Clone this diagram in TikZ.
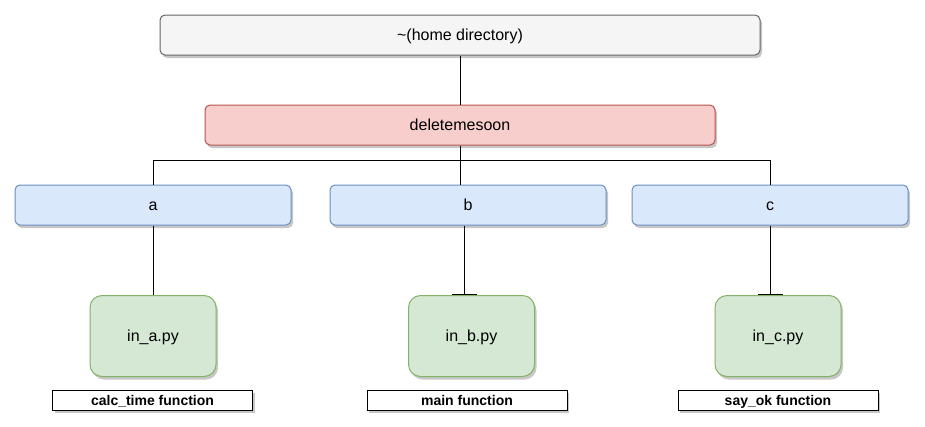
\documentclass[tikz,border=0pt]{standalone}
\usepackage{fontspec}
\setmainfont{Liberation Sans}
\usetikzlibrary{arrows.meta,shadows}
\definecolor{homefill}{HTML}{F5F5F5}
\definecolor{homedraw}{HTML}{666666}
\definecolor{delfill}{HTML}{F8CECC}
\definecolor{deldraw}{HTML}{B85450}
\definecolor{dirfill}{HTML}{DAE8FC}
\definecolor{dirdraw}{HTML}{6C8EBF}
\definecolor{pyfill}{HTML}{D5E8D4}
\definecolor{pydraw}{HTML}{82B366}
\begin{document}
\begin{tikzpicture}[x=1pt, y=-1pt, >=stealth, line width=1pt,
    shade/.style={drop shadow={shadow xshift=2pt, shadow yshift=-3pt, fill=black, opacity=0.22}},
    box/.style={draw, shade, rounded corners=5pt, minimum height=40pt, inner sep=0pt, text height=11.5pt, text depth=0pt, font=\fontsize{16}{19}\selectfont},
    dirbox/.style={box, fill=dirfill, draw=dirdraw, minimum width=276pt},
    pybox/.style={box, fill=pyfill, draw=pydraw, rounded corners=12pt, minimum width=126pt, minimum height=81pt},
    funcbox/.style={draw=black, fill=white, shade, minimum width=200pt, minimum height=20pt, inner sep=0pt, text height=11.5pt, text depth=0pt, font=\fontsize{14}{16}\selectfont\bfseries},
    tee/.style={-{Bar[width=25pt]}}]
    \useasboundingbox (0,0) rectangle (925,426);
    \node[box, fill=homefill, draw=homedraw, minimum width=600pt] (home) at (460,35) {\textasciitilde(home directory)};
    \node[box, fill=delfill, draw=deldraw, minimum width=510pt] (del) at (460,125) {deletemesoon};
    \node[dirbox] (a) at (153,205) {a};
    \node[dirbox] (b) at (468,205) {b};
    \node[dirbox] (c) at (770,205) {c};
    \node[pybox] (ina) at (153,336) {in\_a.py};
    \node[pybox] (inb) at (471.5,336) {in\_b.py};
    \node[pybox] (inc) at (778,336) {in\_c.py};
    \node[funcbox] (fa) at (152.5,400) {calc\_time function};
    \node[funcbox] (fb) at (467,400) {main function};
    \node[funcbox] (fc) at (778,400) {say\_ok function};
    \draw (home.south) -- (del.north);
    \draw (del.south) -- ++(0,15) -| (a.north);
    \draw (del.south) -- ++(0,15) -| (c.north);
    \draw (del.south) -- (del.south |- b.north);
    \draw (a.south) -- (ina.north);
    \draw[tee] ([xshift=-4pt]b.south) -- ([xshift=-4pt]b.south |- inb.north);
    \draw[tee] (c.south) -- (c.south |- inc.north);
\end{tikzpicture}
\end{document}
